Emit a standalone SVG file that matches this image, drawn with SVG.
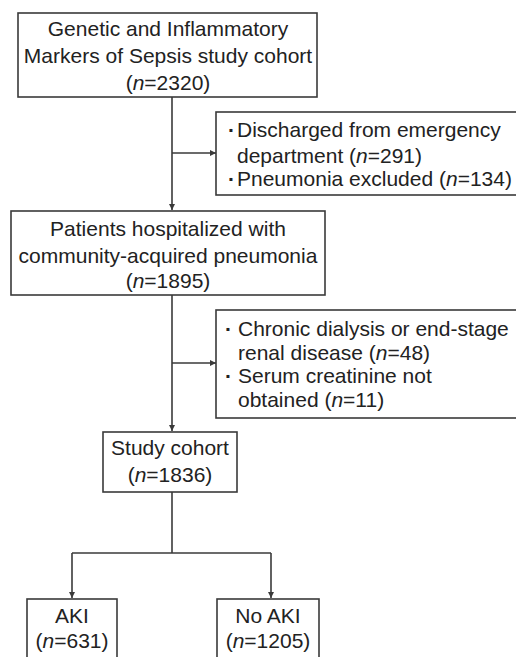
<svg xmlns="http://www.w3.org/2000/svg" width="516" height="657" viewBox="0 0 516 657">
<defs>
<style>
.box{fill:#fff;stroke:#3a3a3a;stroke-width:1.6}
.t{font-family:"Liberation Sans",Arial,sans-serif;font-size:21px;fill:#222}
.c{text-anchor:middle}
.b{font-weight:bold}
.ln{fill:none;stroke:#3a3a3a;stroke-width:1.6}
</style>
<marker id="ah" viewBox="0 0 10 10" refX="10" refY="5" markerWidth="6" markerHeight="6" orient="auto" markerUnits="userSpaceOnUse">
<path d="M0,0 L10,5 L0,10 z" fill="#3a3a3a"/>
</marker>
</defs>
<rect width="516" height="657" fill="#fff"/>
<g id="connectors">
<line class="ln" x1="172" y1="97" x2="172" y2="210" marker-end="url(#ah)"/>
<line class="ln" x1="172" y1="153" x2="216" y2="153" marker-end="url(#ah)"/>
<line class="ln" x1="172" y1="295" x2="172" y2="431" marker-end="url(#ah)"/>
<line class="ln" x1="172" y1="363" x2="216" y2="363" marker-end="url(#ah)"/>
<polyline class="ln" points="172,492 172,553"/>
<polyline class="ln" points="72,553 271,553"/>
<line class="ln" x1="72" y1="553" x2="72" y2="598" marker-end="url(#ah)"/>
<line class="ln" x1="271" y1="553" x2="271" y2="598" marker-end="url(#ah)"/>
</g>
<g id="n1">
<rect class="box" x="18" y="13" width="299" height="84"/>
<text class="t c" x="168" y="36">Genetic and Inflammatory</text>
<text class="t c" x="168" y="63">Markers of Sepsis study cohort</text>
<text class="t c" x="168" y="90">(<tspan font-style="italic">n</tspan>=2320)</text>
</g>
<g id="ex1">
<rect class="box" x="216" y="112" width="310" height="83"/>
<text class="t b" x="228" y="137">·</text>
<text class="t" x="237" y="137">Discharged from emergency</text>
<text class="t" x="237" y="163">department (<tspan font-style="italic">n</tspan>=291)</text>
<text class="t b" x="228" y="186">·</text>
<text class="t" x="237" y="186">Pneumonia excluded (<tspan font-style="italic">n</tspan>=134)</text>
</g>
<g id="n2">
<rect class="box" x="11" y="211" width="314" height="84"/>
<text class="t c" x="168" y="236">Patients hospitalized with</text>
<text class="t c" x="168" y="263">community-acquired pneumonia</text>
<text class="t c" x="168" y="288">(<tspan font-style="italic">n</tspan>=1895)</text>
</g>
<g id="ex2">
<rect class="box" x="216" y="310" width="310" height="108"/>
<text class="t b" x="225" y="336">·</text>
<text class="t" x="238" y="336">Chronic dialysis or end-stage</text>
<text class="t" x="238" y="360">renal disease (<tspan font-style="italic">n</tspan>=48)</text>
<text class="t b" x="225" y="383">·</text>
<text class="t" x="238" y="383">Serum creatinine not</text>
<text class="t" x="238" y="407">obtained (<tspan font-style="italic">n</tspan>=11)</text>
</g>
<g id="n3">
<rect class="box" x="103" y="432" width="134" height="60"/>
<text class="t c" x="170" y="455">Study cohort</text>
<text class="t c" x="170" y="482">(<tspan font-style="italic">n</tspan>=1836)</text>
</g>
<g id="n4">
<rect class="box" x="27" y="599" width="90" height="70"/>
<text class="t c" x="72" y="623">AKI</text>
<text class="t c" x="72" y="648">(<tspan font-style="italic">n</tspan>=631)</text>
</g>
<g id="n5">
<rect class="box" x="217" y="599" width="102" height="70"/>
<text class="t c" x="268" y="623">No AKI</text>
<text class="t c" x="268" y="648">(<tspan font-style="italic">n</tspan>=1205)</text>
</g>
</svg>
